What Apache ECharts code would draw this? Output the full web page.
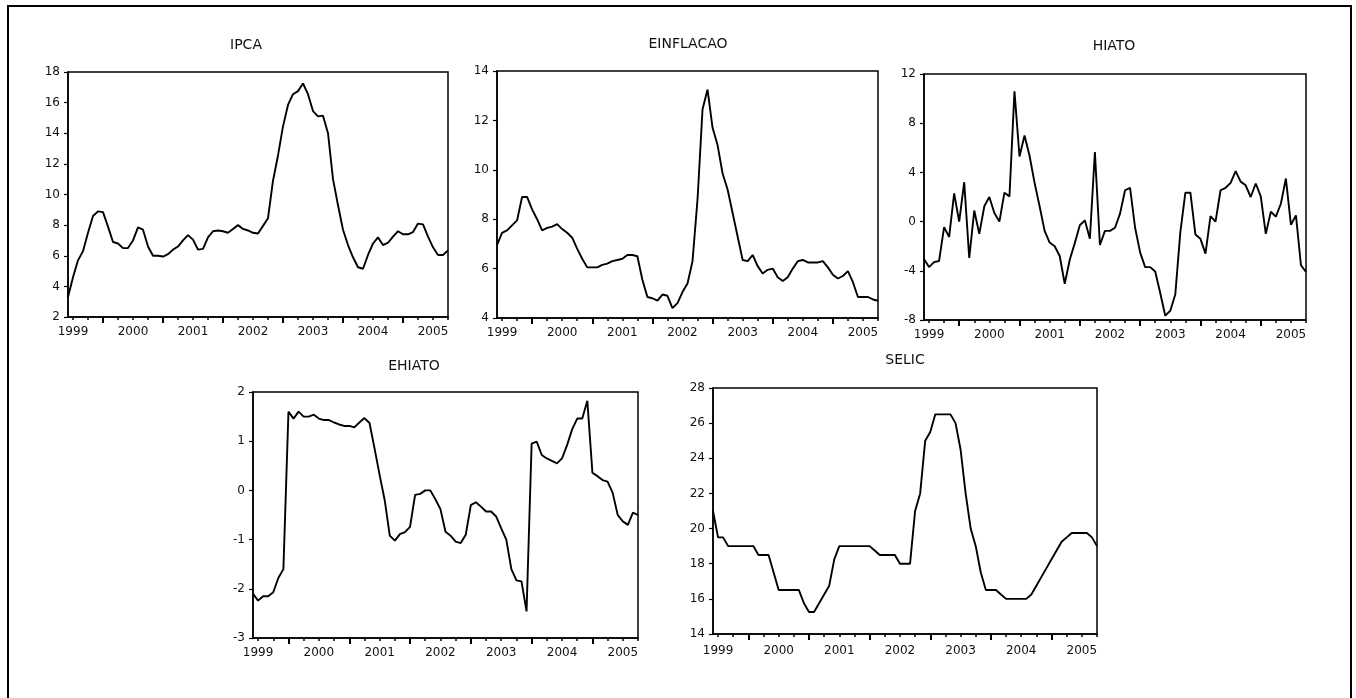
<!DOCTYPE html>
<html>
<head>
<meta charset="utf-8">
<script src="https://cdn.jsdelivr.net/npm/echarts@6/dist/echarts.min.js"></script>
<style>
html,body{margin:0;padding:0;background:#fff;}
#c{width:1356px;height:698px;}
</style>
</head>
<body>
<div id="c"></div>
<script>
// Monthly sample: 1999M06 .. 2005M10
const startYear = 1999, startMonth = 6, endYear = 2005, endMonth = 10;
const months = [];
for (let y = startYear; y <= endYear; y++) {
  for (let m = 1; m <= 12; m++) {
    if (y === startYear && m < startMonth) continue;
    if (y === endYear && m > endMonth) continue;
    months.push(y + '-' + (m < 10 ? '0' + m : m));
  }
}

const titles = ['IPCA', 'EINFLACAO', 'HIATO', 'EHIATO', 'SELIC'];

const ipca = [3.3,4.6,5.7,6.3,7.5,8.6,8.9,
  8.85,7.9,6.9,6.8,6.5,6.5,7.0,7.85,7.7,6.6,6.0,6.0,
  5.95,6.1,6.4,6.6,7.0,7.35,7.05,6.4,6.45,7.2,7.6,7.65,
  7.6,7.5,7.75,8.0,7.75,7.65,7.5,7.45,7.95,8.45,10.9,12.55,
  14.45,15.85,16.55,16.75,17.25,16.55,15.45,15.1,15.15,14.0,11.0,9.3,
  7.7,6.7,5.9,5.25,5.15,6.05,6.8,7.2,6.7,6.85,7.25,7.6,
  7.4,7.4,7.55,8.1,8.05,7.25,6.55,6.05,6.05,6.35];

const einflacao = [6.95,7.45,7.55,7.75,7.95,8.9,8.9,
  8.4,8.0,7.55,7.65,7.7,7.8,7.6,7.45,7.25,6.8,6.4,6.05,
  6.05,6.05,6.15,6.2,6.3,6.35,6.4,6.55,6.55,6.5,5.55,4.85,
  4.8,4.7,4.95,4.9,4.4,4.6,5.05,5.4,6.3,8.8,12.45,13.25,
  11.7,11.0,9.85,9.2,8.25,7.3,6.35,6.3,6.55,6.1,5.8,5.95,
  6.0,5.65,5.5,5.65,6.0,6.3,6.35,6.25,6.25,6.25,6.3,6.05,
  5.75,5.6,5.7,5.9,5.45,4.85,4.85,4.85,4.75,4.7];

const hiato = [-3.05,-3.7,-3.3,-3.2,-0.45,-1.25,2.3,
  0.0,3.2,-2.95,0.9,-1.0,1.25,2.0,0.7,0.0,2.35,2.05,10.6,
  5.3,7.0,5.35,3.15,1.25,-0.75,-1.7,-2.0,-2.8,-5.05,-3.1,-1.75,
  -0.3,0.1,-1.4,5.65,-1.9,-0.75,-0.75,-0.5,0.65,2.55,2.75,-0.5,
  -2.5,-3.7,-3.7,-4.05,-5.8,-7.65,-7.25,-5.9,-0.85,2.35,2.35,-1.05,
  -1.4,-2.6,0.45,0.0,2.55,2.75,3.15,4.1,3.25,2.95,2.0,3.1,
  2.05,-1.0,0.8,0.4,1.45,3.5,-0.25,0.5,-3.55,-4.1];

const ehiato = [-2.1,-2.24,-2.15,-2.15,-2.07,-1.78,-1.6,
  1.6,1.46,1.6,1.5,1.5,1.54,1.46,1.43,1.43,1.38,1.34,1.31,
  1.31,1.28,1.38,1.47,1.37,0.85,0.31,-0.2,-0.92,-1.02,-0.89,-0.85,
  -0.74,-0.09,-0.07,0.0,0.0,-0.18,-0.38,-0.84,-0.92,-1.04,-1.07,-0.9,
  -0.3,-0.24,-0.33,-0.43,-0.43,-0.53,-0.77,-1.0,-1.6,-1.83,-1.85,-2.46,
  0.95,0.99,0.72,0.65,0.6,0.55,0.65,0.92,1.24,1.46,1.46,1.82,
  0.36,0.29,0.21,0.18,-0.05,-0.5,-0.63,-0.7,-0.45,-0.5];

const selic = [21.0,19.5,19.5,19.0,19.0,19.0,19.0,
  19.0,19.0,18.5,18.5,18.5,17.5,16.5,16.5,16.5,16.5,16.5,15.75,
  15.25,15.25,15.75,16.25,16.75,18.25,19.0,19.0,19.0,19.0,19.0,19.0,
  19.0,18.75,18.5,18.5,18.5,18.5,18.0,18.0,18.0,21.0,22.0,25.0,
  25.5,26.5,26.5,26.5,26.5,26.0,24.5,22.0,20.0,19.0,17.5,16.5,
  16.5,16.5,16.25,16.0,16.0,16.0,16.0,16.0,16.25,16.75,17.25,17.75,
  18.25,18.75,19.25,19.5,19.75,19.75,19.75,19.75,19.5,19.0];

// y-axis scales [min, max, interval]
const yMin = [2, 4, -8, -3, 14];
const yMax = [18, 14, 12, 2, 28];
const yStep = [2, 2, 4, 1, 2];

const seriesData = [ipca, einflacao, hiato, ehiato, selic];

// layout (pixels)
const grids = [
  {left: 68,  top: 72,  width: 380, height: 245},
  {left: 497, top: 71,  width: 381, height: 247},
  {left: 924, top: 74,  width: 382, height: 246},
  {left: 253, top: 392, width: 385, height: 246},
  {left: 713, top: 388, width: 384, height: 246}
];
const titlePos = [[246, 45], [688, 44], [1114, 46], [414, 366], [905, 360]];
const labelMargin = [9, 9, 9, 9, 11];

const FONT = '"DejaVu Sans", "Liberation Sans", Arial, sans-serif';
const monthOf = v => parseInt(v.slice(5), 10);

const option = {
  animation: false,
  backgroundColor: '#fff',
  grid: [], xAxis: [], yAxis: [], series: [], graphic: []
};

grids.forEach((g, i) => {
  option.grid.push(Object.assign({show: true, borderColor: '#000', borderWidth: 1.5, containLabel: false}, g));
  // main x axis: quarterly ticks and year labels
  option.xAxis.push({
    type: 'category', gridIndex: i, position: 'bottom', data: months, boundaryGap: false,
    axisLine: {show: true, onZero: false, lineStyle: {color: '#000', width: 1.5}},
    axisTick: {show: true, inside: false, length: 3, lineStyle: {color: '#000', width: 1.5},
      interval: (idx, v) => (monthOf(v) % 3) === 1},
    axisLabel: {show: true, color: '#111', fontFamily: FONT, fontSize: 12, margin: labelMargin[i],
      interval: (idx, v) => monthOf(v) === 7,
      formatter: v => v.slice(0, 4)},
    splitLine: {show: false}
  });
  // overlay x axis: longer year ticks
  option.xAxis.push({
    type: 'category', gridIndex: i, position: 'bottom', data: months, boundaryGap: false,
    axisLine: {show: false, onZero: false},
    axisTick: {show: true, inside: false, length: 6, lineStyle: {color: '#000', width: 2},
      interval: (idx, v) => monthOf(v) === 1},
    axisLabel: {show: false},
    splitLine: {show: false}
  });
  option.yAxis.push({
    type: 'value', gridIndex: i, min: yMin[i], max: yMax[i], interval: yStep[i],
    axisLine: {show: true, onZero: false, lineStyle: {color: '#000', width: 1.5}},
    axisTick: {show: true, inside: false, length: 4, lineStyle: {color: '#000', width: 1.2}},
    axisLabel: {color: '#111', fontFamily: FONT, fontSize: 12, margin: 8},
    splitLine: {show: false}
  });
  option.series.push({
    type: 'line', xAxisIndex: i * 2, yAxisIndex: i, data: seriesData[i],
    symbol: 'none', lineStyle: {color: '#000', width: 1.9}, itemStyle: {color: '#000'}
  });
  option.graphic.push({
    type: 'text', x: titlePos[i][0], y: titlePos[i][1], silent: true,
    style: {text: titles[i], fill: '#111', font: '14px ' + FONT, textAlign: 'center', textVerticalAlign: 'middle'}
  });
});

option.graphic.push({
  type: 'rect', shape: {x: 8, y: 6, width: 1343, height: 704}, silent: true,
  style: {fill: 'none', stroke: '#000', lineWidth: 2}
});

const chart = echarts.init(document.getElementById('c'), null, {renderer: 'canvas'});
chart.setOption(option);
</script>
</body>
</html>
